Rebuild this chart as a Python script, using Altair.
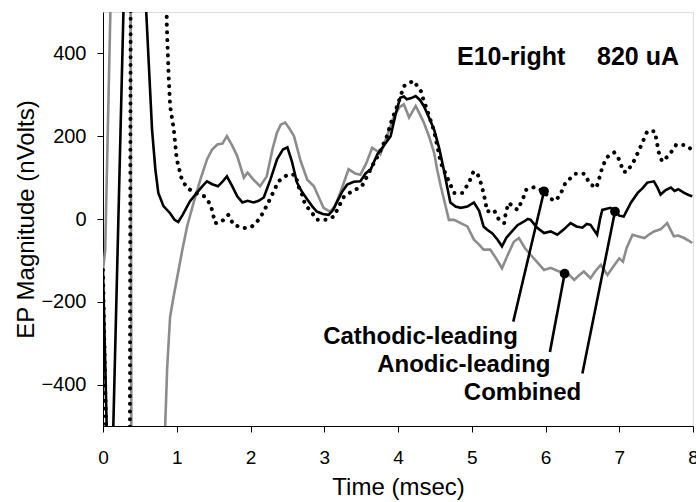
import altair as alt
import pandas as pd

# ---------------- data ----------------
# Combined (black solid)
t_comb = [0, 0.05, 0.09, 0.14, 0.277, 0.31, 0.55, 0.585, 0.62, 0.665, 0.71, 0.75, 0.82, 0.91, 0.97,
          1.02, 1.08, 1.18, 1.28, 1.36, 1.41, 1.48, 1.56, 1.62, 1.68, 1.75, 1.82, 1.89, 1.96, 2.04,
          2.11, 2.18, 2.27, 2.36, 2.44, 2.50, 2.56, 2.63, 2.70, 2.77, 2.84, 2.90, 2.98, 3.06, 3.12,
          3.17, 3.24, 3.31, 3.40, 3.49, 3.56, 3.63, 3.68, 3.72, 3.80, 3.90, 3.97, 4.03, 4.08, 4.12,
          4.18, 4.24, 4.30, 4.35, 4.42, 4.49, 4.56, 4.62, 4.67, 4.71, 4.78, 4.85, 4.94, 5.03, 5.10,
          5.16, 5.21, 5.28, 5.35, 5.41, 5.47, 5.53, 5.62, 5.71, 5.76, 5.80, 5.88, 5.98, 6.07, 6.16,
          6.25, 6.34, 6.42, 6.50, 6.56, 6.61, 6.70, 6.74, 6.77, 6.88, 6.95, 7.00, 7.06, 7.16, 7.25,
          7.32, 7.38, 7.47, 7.52, 7.56, 7.63, 7.70, 7.75, 7.80, 7.88, 7.94, 7.99]
v_comb = [-123, -500, -800, -500, 500, 800, 800, 505, 378, 216, 120, 63, 31, 14, -2,
          -7, 10, 43, 65, 82, 91, 84, 79, 90, 103, 80, 55, 40, 44, 40,
          44, 52, 95, 144, 168, 173, 140, 88, 65, 47, 30, 18, 12, 10, 22,
          40, 65, 83, 90, 91, 110, 120, 140, 156, 175, 200, 255, 293, 296, 289,
          292, 297, 287, 273, 245, 216, 170, 120, 75, 40, 30, 27, 30, 40, 20,
          -18, -26, -35, -50, -66, -45, -33, -15, -6, 0, -2, -20, -34, -30, -38,
          -25, -10, -18, -21, -12, -14, -38, 0, 22, 27, 20, 8, 6, 40, 63,
          75, 88, 91, 75, 59, 70, 76, 68, 72, 63, 58, 55]

# Anodic-leading (gray solid)
t_anod = [0, 0.03, 0.10, 0.14, 0.34, 0.375, 0.385, 0.42, 0.80, 0.845, 0.87, 0.91, 0.96, 1.00, 1.07,
          1.14, 1.23, 1.32, 1.41, 1.48, 1.55, 1.62, 1.68, 1.75, 1.82, 1.91, 1.96, 2.04, 2.13, 2.22,
          2.30, 2.36, 2.41, 2.47, 2.53, 2.59, 2.68, 2.77, 2.86, 2.92, 2.99, 3.08, 3.14, 3.20, 3.27,
          3.33, 3.42, 3.49, 3.57, 3.65, 3.71, 3.76, 3.85, 3.94, 4.02, 4.08, 4.15, 4.24, 4.29, 4.35,
          4.42, 4.49, 4.53, 4.58, 4.64, 4.69, 4.76, 4.85, 4.94, 5.03, 5.10, 5.16, 5.25, 5.33, 5.41,
          5.48, 5.57, 5.64, 5.72, 5.80, 5.89, 5.98, 6.07, 6.16, 6.25, 6.32, 6.39, 6.46, 6.52, 6.61,
          6.68, 6.75, 6.84, 6.92, 7.00, 7.05, 7.10, 7.18, 7.26, 7.34, 7.40, 7.47, 7.56, 7.65, 7.74,
          7.80, 7.88, 7.94, 7.99]
v_anod = [-123, -75, 500, 800, 800, 500, -500, -800, -800, -490, -360, -236, -185, -147, -80,
          -18, 40, 95, 144, 168, 180, 182, 200, 178, 152, 100, 112, 95, 79, 103,
          170, 209, 228, 233, 218, 200, 140, 95, 79, 55, 27, 18, 30, 55, 90,
          120, 110, 107, 135, 172, 165, 156, 200, 245, 270, 277, 245, 273, 255, 233,
          200, 160, 120, 79, 35, -2, -2, -10, -18, -50, -62, -74, -74, -95, -119,
          -90, -55, -46, -70, -87, -105, -123, -118, -125, -131, -135, -147, -135, -127, -143,
          -125, -111, -135, -115, -95, -103, -70, -38, -42, -46, -38, -30, -25, -10, -42,
          -40, -46, -52, -58]

# Cathodic-leading (black dotted)
t_cath = [0, 0.04, 0.07, 0.34, 0.365, 0.375, 0.40, 0.84, 0.865, 0.87, 0.89, 0.91, 0.96, 1.00, 1.07,
          1.14, 1.25, 1.37, 1.46, 1.52, 1.60, 1.70, 1.77, 1.91, 2.02, 2.11, 2.18, 2.25, 2.38, 2.50,
          2.61, 2.65, 2.70, 2.74, 2.83, 2.90, 3.02, 3.13, 3.20, 3.27, 3.38, 3.51, 3.58, 3.65, 3.72,
          3.79, 3.85, 3.92, 3.99, 4.08, 4.21, 4.31, 4.35, 4.40, 4.49, 4.58, 4.64, 4.71, 4.76, 4.87,
          4.96, 5.02, 5.07, 5.12, 5.16, 5.21, 5.30, 5.37, 5.44, 5.46, 5.50, 5.62, 5.69, 5.74, 5.85,
          5.98, 6.05, 6.14, 6.21, 6.27, 6.40, 6.53, 6.60, 6.69, 6.73, 6.77, 6.83, 6.93, 7.01, 7.05,
          7.10, 7.19, 7.26, 7.32, 7.38, 7.48, 7.51, 7.53, 7.58, 7.68, 7.77, 7.89, 8.00]
v_cath = [-123, -500, -800, -800, -500, 500, 800, 800, 470, 443, 346, 273, 216, 144, 95,
          75, 63, 55, 35, -10, -8, 10, -14, -22, -18, -2, 18, 43, 91, 107,
          107, 79, 59, 35, 16, -2, -2, 6, 31, 55, 67, 79, 103, 128, 150,
          176, 200, 241, 273, 321, 334, 309, 285, 261, 212, 136, 111, 83, 63, 63,
          87, 113, 113, 89, 63, 18, 22, -2, -10, 14, 39, 22, 47, 71, 77,
          67, 50, 44, 63, 87, 109, 109, 85, 75, 99, 125, 149, 161, 141, 115,
          113, 137, 163, 187, 212, 212, 187, 164, 139, 155, 179, 179, 166]

# Annotations
ann_labels = ["Cathodic-leading", "Anodic-leading", "Combined"]
ann_text_t = [2.985, 3.718, 4.893]
ann_text_v = [-301, -370, -436]
ann_line_t = [5.563, 6.06, 6.50]
ann_line_v = [-248, -321, -373]
ann_dot_t = [5.98, 6.259, 6.942]
ann_dot_v = [67, -132, 18]

title_left = "E10-right"
title_right = "820 uA"
title_t = [4.80, 7.81]
title_v = 372

x_ticks = [0, 1, 2, 3, 4, 5, 6, 7, 8]
y_ticks = [-400, -200, 0, 200, 400]

# ---------------- chart ----------------
FONT = "Liberation Sans"
xs = alt.Scale(domain=[0, 8], nice=False, zero=False)
ys = alt.Scale(domain=[-500, 500], nice=False, zero=False)

x_axis = alt.Axis(values=x_ticks, title="Time (msec)", labelFontSize=19, titleFontSize=24,
                  labelFont=FONT, titleFont=FONT, titleFontWeight="normal", tickSize=6,
                  labelPadding=16, domainColor="black", tickColor="black", labelColor="black",
                  titleColor="black", grid=False, titleX=295, titleY=68,
                  titleBaseline="alphabetic", titleAlign="center", labelFlush=False)
y_axis = alt.Axis(values=y_ticks, title="EP Magnitude (nVolts)", labelFontSize=20,
                  titleFontSize=24, labelFont=FONT, titleFont=FONT, titleFontWeight="normal",
                  tickSize=6, labelPadding=11, domainColor="black", tickColor="black",
                  labelColor="black", titleColor="black", grid=False, titleAngle=270,
                  titleX=-69.5, titleY=207, titleBaseline="alphabetic", titleAlign="center",
                  labelFlush=False)


def X(field):
    return alt.X(field, scale=xs, axis=x_axis)


def Y(field):
    return alt.Y(field, scale=ys, axis=y_axis)


df_comb = pd.DataFrame({"t": t_comb, "v": v_comb})
df_anod = pd.DataFrame({"t": t_anod, "v": v_anod})
df_cath = pd.DataFrame({"t": t_cath, "v": v_cath})

anod = alt.Chart(df_anod).mark_line(clip=True, color="#8c8c8c", strokeWidth=2.6).encode(
    x=X("t:Q"), y=Y("v:Q"), order="t:Q")
comb = alt.Chart(df_comb).mark_line(clip=True, color="black", strokeWidth=2.6).encode(
    x=X("t:Q"), y=Y("v:Q"), order="t:Q")
cath = alt.Chart(df_cath).mark_line(clip=True, color="black", strokeWidth=4,
                                    strokeDash=[0.1, 7.6], strokeCap="round").encode(
    x=X("t:Q"), y=Y("v:Q"), order="t:Q")

df_ann = pd.DataFrame({"label": ann_labels, "tt": ann_text_t, "tv": ann_text_v,
                       "lt": ann_line_t, "lv": ann_line_v, "dt": ann_dot_t, "dv": ann_dot_v})

rules = alt.Chart(df_ann).mark_rule(color="black", strokeWidth=2.6).encode(
    x=X("lt:Q"), y=Y("lv:Q"), x2="dt:Q", y2="dv:Q")
dots = alt.Chart(df_ann).mark_circle(color="black", opacity=1, size=95).encode(
    x=X("dt:Q"), y=Y("dv:Q"))
texts = alt.Chart(df_ann).mark_text(align="left", baseline="alphabetic", fontSize=24,
                                    fontWeight="bold", font=FONT, color="black").encode(
    x=X("tt:Q"), y=Y("tv:Q"), text="label:N")

df_t1 = pd.DataFrame({"t": [title_t[0]], "v": [title_v], "s": [title_left]})
df_t2 = pd.DataFrame({"t": [title_t[1]], "v": [title_v], "s": [title_right]})
tl = alt.Chart(df_t1).mark_text(align="left", baseline="alphabetic", fontSize=25,
                                fontWeight="bold", font=FONT, color="black").encode(
    x=X("t:Q"), y=Y("v:Q"), text="s:N")
tr = alt.Chart(df_t2).mark_text(align="right", baseline="alphabetic", fontSize=25,
                                fontWeight="bold", font=FONT, color="black").encode(
    x=X("t:Q"), y=Y("v:Q"), text="s:N")

chart = alt.layer(anod, comb, cath, rules, dots, texts, tl, tr).properties(
    width=590, height=414, autosize="none",
    padding={"left": 103, "top": 12, "right": 3, "bottom": 76},
).configure_view(stroke="#333333", strokeWidth=1).configure(font=FONT, background="white")

chart.save("out.html", embed_options={"renderer": "svg", "actions": False})
